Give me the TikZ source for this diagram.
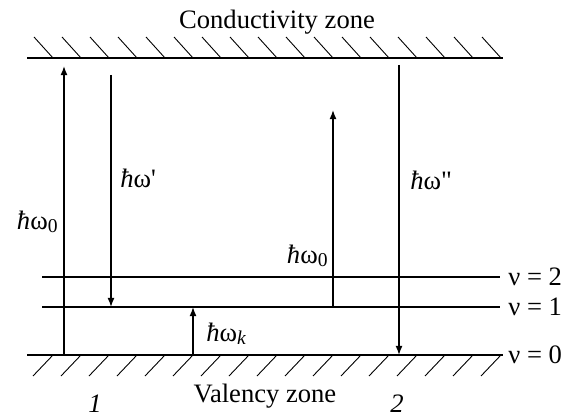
\documentclass[tikz,border=0pt]{standalone}
\usepackage{fontspec}
\setmainfont{Liberation Serif}
\usetikzlibrary{arrows.meta}

\newcommand{\hw}{\textit{ħ}ω}
\newcommand{\lowidx}[1]{\raisebox{-0.3ex}{\fontsize{9.8}{10}\selectfont#1}}

\begin{document}
\begin{tikzpicture}[x=0.5pt,y=-0.5pt,
    font=\fontsize{13.3}{15}\selectfont,
    zoneline/.style={line width=1.1pt},
    hatch/.style={line width=0.45pt},
    arr/.style={line width=0.6pt,-{Latex[length=4.6pt,width=3.5pt]}}]

    \useasboundingbox (0,0) rectangle (572,417);

    % --- Conductivity zone (top) ---
    \node[anchor=base] (cz) at (277,29) {Conductivity zone};
    \draw[zoneline] (27,58) -- (503,58);
    \foreach \x in {53,81,...,501}
        \draw[hatch] (\x-19,37) -- (\x,58);

    % --- Valency zone (bottom) ---
    \draw[zoneline] (27,355) -- (503,355);
    \foreach \x in {53,81,...,501}
        \draw[hatch] (\x,355) -- (\x-20,376);
    \node[anchor=base] (vz) at (265,402) {Valency zone};

    % levels and their labels
    \node[anchor=west,inner sep=4pt] (n2) at (500,277) {ν = 2};
    \node[anchor=west,inner sep=4pt] (n1) at (500,307) {ν = 1};
    \node[anchor=west,inner sep=2.5pt] (n0) at (503,355) {ν = 0};
    \coordinate (l2) at (42,277);
    \coordinate (l1) at (42,307);
    \draw[line width=0.55pt] (l2) -- (n2);
    \draw[line width=0.8pt] (l1) -- (n1);

    % arrow ends
    \coordinate (p1) at (64,355);  \coordinate (q1) at (64,66);
    \coordinate (p2) at (111,75);  \coordinate (q2) at (111,307);
    \coordinate (pk) at (193,307); \coordinate (qk) at (193,355);
    \coordinate (p3) at (333,307); \coordinate (q3) at (333,110);
    \coordinate (p4) at (399,65);  \coordinate (q4) at (399,355);

    \draw[arr] (p1) -- (q1);
    \draw[arr] (p2) -- (q2);
    \draw[arr,{Latex[length=4.6pt,width=3.5pt]}-] (pk) -- (qk);
    \draw[arr] (p3) -- (q3);
    \draw[arr] (p4) -- (q4);

    % energy labels
    \node[anchor=base east,inner sep=0pt] (e0) at (58,229) {\hw\lowidx{0}};
    \node[anchor=base west,inner sep=0pt] (e1) at (120,187) {\hw\textquotesingle};
    \node[anchor=base west,inner sep=0pt] (ek) at (206,341) {\hw\lowidx{\itshape k}};
    \node[anchor=base east,inner sep=0pt] (e3) at (328,263) {\hw\lowidx{0}};
    \node[anchor=base west,inner sep=0pt] (e2) at (410,189) {\hw\textquotedbl};

    % transition numbers
    \node[anchor=base] (t1) at (95,412) {\itshape 1};
    \node[anchor=base] (t2) at (397,412) {\itshape 2};

\end{tikzpicture}
\end{document}
